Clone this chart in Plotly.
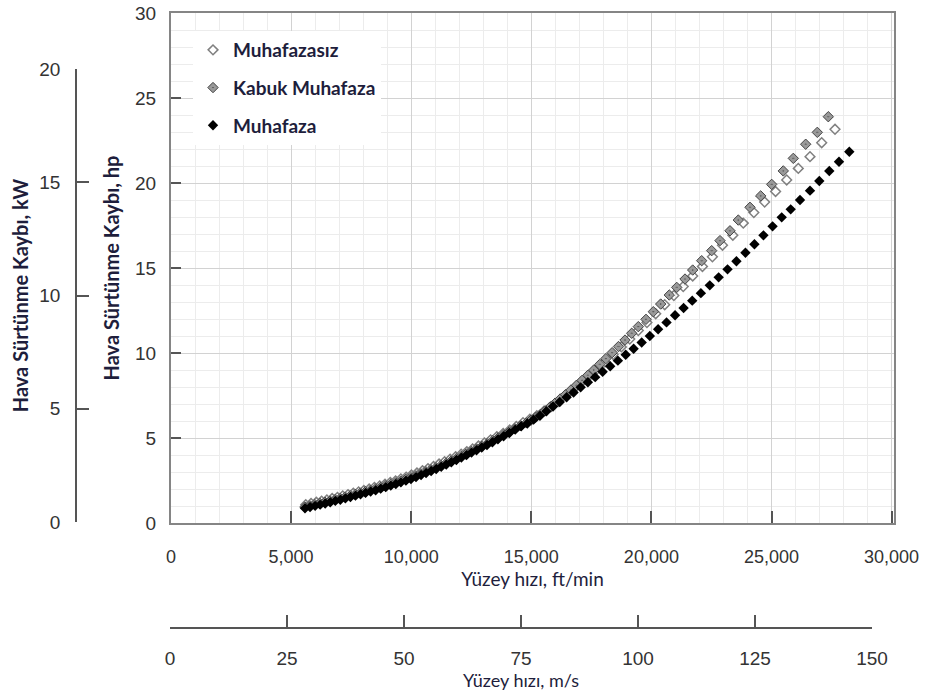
import plotly.graph_objects as go

# ---------------- data ----------------
# Surface speed in ft/min, air friction (windage) loss in hp
speed_muhafazasiz = [5610, 5830, 6050, 6270, 6490, 6710, 6930, 7150, 7370, 7590, 7810, 8030, 8250, 8470,
                     8690, 8910, 9130, 9350, 9570, 9790, 10010, 10240, 10470, 10700, 10930, 11160, 11390,
                     11620, 11850, 12080, 12315, 12555, 12800, 13050, 13305, 13565, 13830, 14100, 14375,
                     14655, 14940, 15230, 15525, 15825, 16130, 16440, 16755, 17075, 17400, 17730, 18065,
                     18405, 18750, 19100, 19455, 19815, 20180, 20555, 20935, 21325, 21720, 22125, 22540,
                     22960, 23390, 23825, 24265, 24715, 25170, 25633, 26116, 26603, 27090, 27644]
loss_muhafazasiz = [1.08, 1.15, 1.22, 1.29, 1.36, 1.44, 1.51, 1.59, 1.67, 1.75, 1.83, 1.91, 2.00, 2.09,
                    2.18, 2.28, 2.38, 2.48, 2.59, 2.70, 2.82, 2.94, 3.07, 3.20, 3.33, 3.47, 3.61,
                    3.75, 3.90, 4.05, 4.20, 4.36, 4.53, 4.71, 4.89, 5.07, 5.27, 5.47, 5.68,
                    5.90, 6.10, 6.31, 6.57, 6.85, 7.15, 7.50, 7.87, 8.24, 8.64, 9.04, 9.47,
                    9.91, 10.36, 10.82, 11.32, 11.79, 12.31, 12.84, 13.38, 13.91, 14.53, 15.09, 15.66,
                    16.34, 16.93, 17.64, 18.26, 18.88, 19.50, 20.18, 20.86, 21.55, 22.37, 23.16]

speed_kabuk = [5575, 5785, 5995, 6205, 6415, 6625, 6835, 7045, 7255, 7465, 7675, 7885, 8095, 8305,
               8515, 8725, 8935, 9145, 9355, 9565, 9775, 9985, 10195, 10405, 10615, 10825, 11035,
               11245, 11455, 11665, 11875, 12085, 12295, 12510, 12725, 12945, 13165, 13390, 13620,
               13850, 14085, 14320, 14560, 14800, 14990, 15180, 15375, 15575, 15780, 15990, 16205,
               16425, 16650, 16880, 17115, 17355, 17600, 17850, 18105, 18365, 18630, 18901, 19180,
               19455, 19775, 20079, 20387, 20745, 21054, 21399, 21719, 22094, 22510, 22856, 23272,
               23618, 24105, 24550, 25008, 25491, 25908, 26424, 26907, 27365]
loss_kabuk = [0.94, 1.01, 1.08, 1.15, 1.22, 1.29, 1.37, 1.44, 1.52, 1.60, 1.68, 1.76, 1.84, 1.92,
              2.00, 2.09, 2.18, 2.27, 2.36, 2.46, 2.56, 2.66, 2.77, 2.89, 3.01, 3.13, 3.25,
              3.38, 3.51, 3.64, 3.78, 3.92, 4.06, 4.21, 4.35, 4.51, 4.66, 4.83, 5.00,
              5.18, 5.36, 5.54, 5.72, 5.89, 6.05, 6.22, 6.38, 6.60, 6.82, 7.05, 7.30,
              7.55, 7.82, 8.10, 8.39, 8.69, 9.00, 9.33, 9.67, 10.02, 10.38, 10.76, 11.16,
              11.55, 11.98, 12.43, 12.88, 13.41, 13.86, 14.35, 14.88, 15.43, 16.02, 16.61, 17.19,
              17.82, 18.57, 19.24, 19.92, 20.71, 21.45, 22.28, 22.98, 23.90]

speed_muhafaza = [5580, 5790, 6000, 6210, 6420, 6630, 6840, 7050, 7260, 7470, 7680, 7890, 8100, 8310,
                  8520, 8730, 8940, 9150, 9360, 9570, 9780, 9990, 10200, 10410, 10620, 10830, 11040,
                  11250, 11460, 11670, 11880, 12090, 12300, 12510, 12720, 12935, 13155, 13380, 13610,
                  13845, 14085, 14330, 14580, 14835, 15095, 15360, 15630, 15905, 16185, 16470, 16760,
                  17055, 17355, 17660, 17970, 18285, 18605, 18930, 19260, 19595, 19935, 20280, 20630,
                  20985, 21340, 21700, 22060, 22430, 22800, 23170, 23540, 23915, 24290, 24665, 25045,
                  25425, 25799, 26187, 26603, 26990, 27406, 27810, 28239]
loss_muhafaza = [0.87, 0.94, 1.01, 1.08, 1.15, 1.22, 1.30, 1.37, 1.45, 1.53, 1.61, 1.69, 1.77, 1.85,
                 1.93, 2.02, 2.11, 2.20, 2.29, 2.39, 2.49, 2.59, 2.70, 2.82, 2.94, 3.06, 3.18,
                 3.31, 3.44, 3.57, 3.71, 3.85, 3.99, 4.14, 4.28, 4.44, 4.59, 4.75, 4.92,
                 5.10, 5.29, 5.49, 5.69, 5.85, 6.08, 6.31, 6.57, 6.85, 7.12, 7.40, 7.68,
                 7.98, 8.28, 8.58, 8.90, 9.22, 9.55, 9.90, 10.25, 10.62, 11.00, 11.40, 11.80,
                 12.22, 12.65, 13.08, 13.52, 13.98, 14.45, 14.92, 15.40, 15.90, 16.40, 16.92, 17.45,
                 17.98, 18.45, 19.00, 19.55, 20.12, 20.71, 21.25, 21.84]

series_names = ["Muhafazasız", "Kabuk Muhafaza", "Muhafaza"]

# axis tick definitions
ft_ticks = [0, 5000, 10000, 15000, 20000, 25000, 30000]
ms_ticks = [0, 25, 50, 75, 100, 125, 150]
hp_ticks = [0, 5, 10, 15, 20, 25, 30]
kw_ticks = [0, 5, 10, 15, 20]

# ---------------- figure ----------------
W, H = 946, 691
TITLE_COLOR = "#1e1e3c"
TICK_COLOR = "#333333"

fig = go.Figure()

fig.add_trace(go.Scatter(
    x=speed_muhafazasiz, y=loss_muhafazasiz, mode="markers", name=series_names[0],
    legendgroup="a",
    marker=dict(symbol="diamond-open", size=7.5, color="#808080", line=dict(width=1.5, color="#808080")),
))
fig.add_trace(go.Scatter(
    x=speed_kabuk, y=loss_kabuk, mode="markers", name=series_names[1],
    legendgroup="b",
    marker=dict(symbol="diamond-dot", size=8, color="#999999", line=dict(width=1, color="#444444")),
))
fig.add_trace(go.Scatter(
    x=speed_muhafaza, y=loss_muhafaza, mode="markers", name=series_names[2],
    legendgroup="c",
    marker=dict(symbol="diamond", size=8, color="#000000", line=dict(width=0)),
))
# carrier trace for the secondary (m/s and kW) scales
fig.add_trace(go.Scatter(x=[], y=[], xaxis="x2", yaxis="y2", showlegend=False, hoverinfo="skip"))

tick_font = dict(family="Liberation Sans, Arial, sans-serif", size=19, color=TICK_COLOR)
xtick_font = dict(family="Liberation Sans, Arial, sans-serif", size=18, color=TICK_COLOR)
title_font_bold = dict(family="Lato, Open Sans, sans-serif", size=20, color=TITLE_COLOR, weight="bold")
title_font = dict(family="Lato, Open Sans, sans-serif", size=19, color=TITLE_COLOR)
title_font_ms = dict(family="Lato, Open Sans, sans-serif", size=18, color=TITLE_COLOR)

fig.update_layout(
    width=W, height=H,
    margin=dict(l=0, r=0, t=0, b=0, autoexpand=False),
    paper_bgcolor="white",
    plot_bgcolor="rgba(0,0,0,0)",
    showlegend=True,
    legend=dict(
        x=193 / W, y=1 - 31 / H, xanchor="left", yanchor="top",
        bgcolor="white", borderwidth=0,
        font=dict(family="Lato, Open Sans, sans-serif", size=19, color=TITLE_COLOR, weight="bold"),
        traceorder="grouped", tracegroupgap=10,
    ),
    xaxis=dict(
        domain=[171 / W, 894 / W], range=[0, 30100], automargin=False,
        tickmode="array", tickvals=ft_ticks, ticktext=[f"{v:,}" for v in ft_ticks],
        showgrid=True, gridcolor="#d2d2d2", gridwidth=1,
        minor=dict(dtick=1000, showgrid=True, gridcolor="#ececec", gridwidth=1, ticks=""),
        zeroline=False, showline=True, linecolor="#858585", linewidth=2, mirror=True,
        ticks="inside", ticklen=12, tickwidth=1.5, tickcolor="#555555",
        tickfont=xtick_font, ticklabelstandoff=16,
        title=dict(text="Yüzey hızı, ft/min", font=title_font, standoff=6),
    ),
    yaxis=dict(
        domain=[1 - 523 / H, 1 - 13 / H], range=[0, 30], automargin=False,
        tickmode="array", tickvals=hp_ticks,
        showgrid=True, gridcolor="#d2d2d2", gridwidth=1,
        minor=dict(dtick=1, showgrid=True, gridcolor="#ececec", gridwidth=1, ticks=""),
        zeroline=False, showline=True, linecolor="#858585", linewidth=2, mirror=True,
        ticks="inside", ticklen=10, tickwidth=1.5, tickcolor="#555555",
        tickfont=tick_font, ticklabelstandoff=9,
        title=dict(text="Hava Sürtünme Kaybı, hp", font=title_font_bold, standoff=10),
    ),
    xaxis2=dict(
        anchor="free", position=1 - 628 / H, side="bottom", automargin=False,
        domain=[170 / W, 872 / W], range=[0, 150],
        tickmode="array", tickvals=ms_ticks,
        showgrid=False, zeroline=False, showline=True, linecolor="#555555", linewidth=1.5,
        ticks="inside", ticklen=12, tickwidth=1.5, tickcolor="#555555",
        tickfont=tick_font, ticklabelstandoff=13,
        title=dict(text="Yüzey hızı, m/s", font=title_font_ms, standoff=6),
    ),
    yaxis2=dict(
        anchor="free", position=76 / W, side="left", automargin=False,
        domain=[1 - 522 / H, 1 - 69 / H], range=[0, 20],
        tickmode="array", tickvals=kw_ticks,
        showgrid=False, zeroline=False, showline=True, linecolor="#555555", linewidth=1.5,
        ticks="inside", ticklen=12, tickwidth=1.5, tickcolor="#555555",
        tickfont=tick_font, ticklabelstandoff=11,
        title=dict(text="Hava Sürtünme Kaybı, kW", font=title_font_bold, standoff=4),
    ),
)

fig.write_html("out.html")
